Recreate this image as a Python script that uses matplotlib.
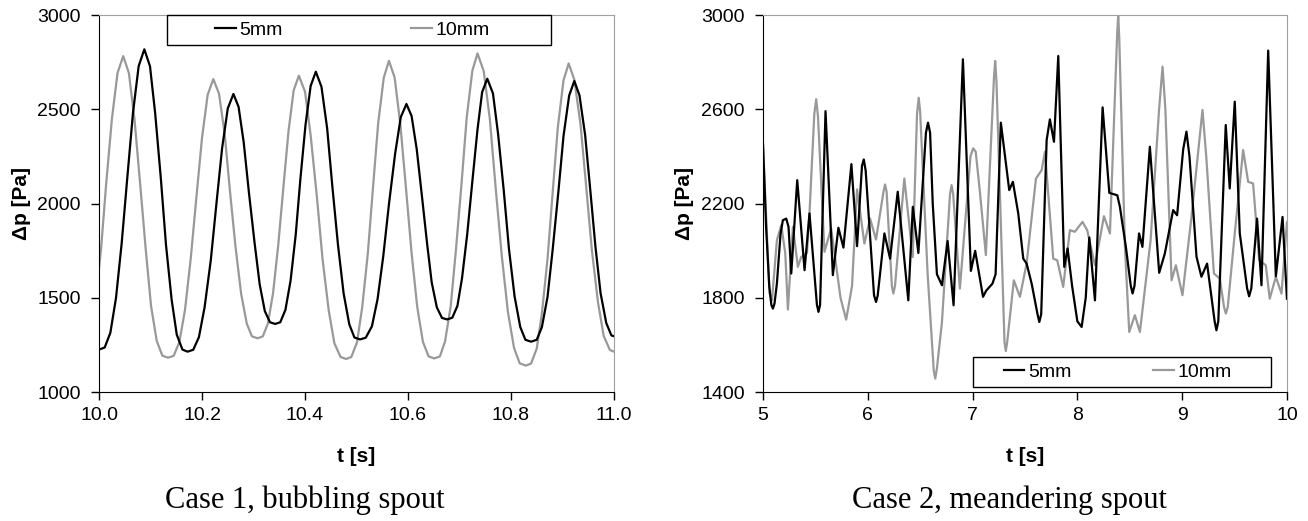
import matplotlib
matplotlib.use("Agg")
import matplotlib.pyplot as plt
from matplotlib.patches import Rectangle

plt.rcParams['font.family'] = ['Liberation Sans', 'DejaVu Sans']

# Case 1 - bubbling spout (t in s, dp in Pa)
t1_5mm = [10.000, 10.011, 10.022, 10.033, 10.044, 10.055, 10.066, 10.077, 10.088,
          10.099, 10.109, 10.120, 10.130, 10.141, 10.151, 10.162, 10.172,
          10.183, 10.194, 10.205, 10.217, 10.228, 10.239, 10.250, 10.261,
          10.271, 10.281, 10.291, 10.302, 10.312, 10.322, 10.332, 10.342,
          10.352, 10.362, 10.372, 10.382, 10.391, 10.401, 10.411, 10.421,
          10.432, 10.443, 10.453, 10.464, 10.475, 10.486, 10.496, 10.507,
          10.518, 10.530, 10.541, 10.552, 10.563, 10.575, 10.586, 10.597,
          10.607, 10.617, 10.627, 10.637, 10.646, 10.656, 10.666, 10.676,
          10.686, 10.696, 10.705, 10.715, 10.725, 10.735, 10.744, 10.754,
          10.765, 10.775, 10.786, 10.796, 10.807, 10.818, 10.828, 10.839,
          10.850, 10.860, 10.871, 10.881, 10.892, 10.902, 10.913, 10.923,
          10.933, 10.944, 10.954, 10.964, 10.974, 10.985, 10.995, 11.000]
p1_5mm = [1225, 1236, 1314, 1499, 1789, 2139, 2482, 2729, 2818,
          2728, 2480, 2135, 1782, 1490, 1304, 1225, 1214,
          1224, 1291, 1449, 1698, 1999, 2293, 2504, 2581,
          2513, 2324, 2061, 1793, 1571, 1429, 1370, 1361,
          1370, 1436, 1591, 1835, 2129, 2417, 2624, 2699,
          2619, 2399, 2094, 1782, 1523, 1359, 1289, 1279,
          1288, 1349, 1494, 1721, 1996, 2264, 2458, 2528,
          2464, 2287, 2041, 1790, 1582, 1449, 1393, 1385,
          1394, 1457, 1605, 1837, 2118, 2393, 2591, 2662,
          2584, 2368, 2068, 1761, 1507, 1345, 1277, 1267,
          1277, 1344, 1505, 1757, 2061, 2358, 2573, 2650,
          2574, 2363, 2071, 1771, 1524, 1366, 1300, 1296]

t1_10mm = [10.000, 10.004, 10.014, 10.025, 10.036, 10.047,
           10.058, 10.069, 10.080, 10.091, 10.101, 10.112, 10.123, 10.134,
           10.145, 10.156, 10.167, 10.178, 10.189, 10.200, 10.211, 10.222,
           10.233, 10.244, 10.254, 10.265, 10.276, 10.287, 10.297, 10.308,
           10.318, 10.328, 10.338, 10.348, 10.358, 10.368, 10.378, 10.388,
           10.400, 10.411, 10.423, 10.434, 10.446, 10.457, 10.469, 10.480,
           10.490, 10.501, 10.511, 10.522, 10.532, 10.542, 10.553, 10.563,
           10.574, 10.585, 10.596, 10.607, 10.618, 10.629, 10.640, 10.651,
           10.662, 10.672, 10.683, 10.693, 10.704, 10.714, 10.725, 10.735,
           10.747, 10.759, 10.770, 10.782, 10.794, 10.806, 10.817, 10.829,
           10.839, 10.850, 10.860, 10.871, 10.881, 10.891, 10.902, 10.912,
           10.923, 10.935, 10.946, 10.957, 10.969, 10.980, 10.992, 11.000]
p1_10mm = [1655, 1760, 2108, 2448, 2693, 2782,
           2692, 2444, 2100, 1748, 1457, 1272, 1193, 1182,
           1192, 1265, 1436, 1705, 2030, 2348, 2577, 2660,
           2583, 2370, 2074, 1772, 1521, 1362, 1295, 1285,
           1295, 1363, 1525, 1778, 2085, 2384, 2600, 2678,
           2594, 2361, 2038, 1707, 1434, 1259, 1186, 1175,
           1186, 1264, 1447, 1735, 2083, 2423, 2668, 2757,
           2669, 2424, 2084, 1737, 1450, 1266, 1189, 1178,
           1189, 1269, 1456, 1751, 2107, 2455, 2705, 2796,
           2703, 2447, 2091, 1726, 1425, 1233, 1152, 1140,
           1151, 1230, 1416, 1707, 2060, 2405, 2653, 2743,
           2657, 2420, 2091, 1754, 1475, 1298, 1223, 1214]

# Case 2 - meandering spout
t2_5mm = [5.000, 5.030, 5.060, 5.080, 5.095, 5.110, 5.133, 5.168, 5.190, 5.222,
          5.244, 5.270, 5.327, 5.397, 5.444, 5.515, 5.530, 5.545, 5.597, 5.667,
          5.720, 5.768, 5.844, 5.898, 5.945, 5.962, 5.980, 6.060, 6.079, 6.095,
          6.159, 6.213, 6.286, 6.387, 6.430, 6.483, 6.555, 6.575, 6.595, 6.620,
          6.660, 6.708, 6.762, 6.819, 6.908, 6.984, 7.025, 7.100, 7.130, 7.190,
          7.220, 7.270, 7.350, 7.385, 7.436, 7.484, 7.516, 7.564, 7.620, 7.637,
          7.655, 7.707, 7.738, 7.777, 7.818, 7.875, 7.907, 7.950, 8.000, 8.041,
          8.080, 8.114, 8.168, 8.241, 8.305, 8.343, 8.381, 8.406, 8.463, 8.510,
          8.527, 8.545, 8.589, 8.621, 8.692, 8.781, 8.835, 8.914, 8.952, 9.010,
          9.041, 9.070, 9.137, 9.184, 9.238, 9.310, 9.327, 9.345, 9.416, 9.454,
          9.502, 9.550, 9.620, 9.639, 9.660, 9.715, 9.757, 9.821, 9.894, 9.958,
          10.000]
p2_5mm = [2455, 2100, 1850, 1770, 1754, 1775, 1860, 2072, 2129, 2136,
          2101, 1903, 2299, 1917, 2158, 1770, 1740, 1770, 2592, 1896,
          2097, 2013, 2367, 2019, 2360, 2387, 2340, 1810, 1782, 1810,
          2073, 1966, 2250, 1789, 2186, 1990, 2500, 2543, 2500, 2200,
          1900, 1853, 2041, 1768, 2812, 1914, 1999, 1804, 1830, 1860,
          1900, 2543, 2257, 2292, 2158, 1966, 1945, 1860, 1730, 1697,
          1730, 2469, 2557, 2462, 2826, 1931, 2009, 1850, 1700, 1676,
          1800, 2056, 1789, 2608, 2245, 2240, 2235, 2186, 2016, 1850,
          1818, 1850, 2073, 2016, 2441, 1906, 1988, 2172, 2150, 2430,
          2505, 2400, 1974, 1889, 1945, 1700, 1662, 1700, 2533, 2264,
          2632, 2073, 1840, 1806, 1840, 2136, 1853, 2849, 1891, 2143,
          1796]

t2_10mm = [5.000, 5.063, 5.086, 5.133, 5.175, 5.213, 5.238, 5.286, 5.333, 5.365,
           5.420, 5.444, 5.490, 5.508, 5.525, 5.587, 5.651, 5.740, 5.794, 5.850,
           5.898, 5.968, 6.022, 6.079, 6.150, 6.165, 6.180, 6.230, 6.244, 6.260,
           6.349, 6.429, 6.470, 6.486, 6.500, 6.571, 6.630, 6.644, 6.660, 6.708,
           6.785, 6.800, 6.815, 6.879, 6.962, 6.980, 7.006, 7.030, 7.070, 7.127,
           7.205, 7.216, 7.228, 7.305, 7.317, 7.330, 7.394, 7.452, 7.516, 7.605,
           7.659, 7.691, 7.770, 7.808, 7.865, 7.929, 7.976, 8.049, 8.094, 8.168,
           8.254, 8.311, 8.380, 8.390, 8.400, 8.454, 8.495, 8.549, 8.597, 8.699,
           8.780, 8.813, 8.840, 8.899, 8.940, 9.003, 9.089, 9.160, 9.194, 9.230,
           9.303, 9.360, 9.400, 9.417, 9.435, 9.502, 9.582, 9.630, 9.677, 9.735,
           9.798, 9.836, 9.894, 9.948, 10.000]
p2_10mm = [2452, 1818, 1789, 2044, 2108, 1988, 1750, 2101, 1931, 1973,
           1990, 2158, 2580, 2643, 2570, 1995, 2094, 1800, 1707, 1850,
           2260, 2030, 2136, 2047, 2250, 2281, 2250, 1850, 1818, 1850,
           2306, 1973, 2580, 2649, 2590, 1903, 1490, 1457, 1500, 1697,
           2240, 2278, 2240, 1839, 2299, 2400, 2434, 2420, 2250, 1981,
           2740, 2805, 2720, 1610, 1574, 1610, 1874, 1804, 1945, 2306,
           2341, 2420, 1966, 1959, 1846, 2087, 2080, 2122, 2087, 1938,
           2146, 2073, 2920, 3000, 2900, 2016, 1655, 1726, 1655, 2044,
           2600, 2781, 2600, 1874, 1938, 1811, 2143, 2450, 2597, 2400,
           1903, 1881, 1760, 1733, 1760, 2073, 2427, 2292, 2285, 1959,
           1938, 1796, 1889, 1818, 2120]

labels = ["5mm", "10mm"]
colors = ["black", "#999999"]

fig = plt.figure(figsize=(13.08, 5.21), dpi=100)
ax1 = fig.add_axes([0.0757, 0.2476, 0.3937, 0.7236])
ax2 = fig.add_axes([0.5833, 0.2476, 0.4006, 0.7236])


def style_axes(ax, xlim, ylim, xticks, yticks, xfmt):
    ax.set_xlim(*xlim)
    ax.set_ylim(*ylim)
    ax.set_xticks(xticks)
    ax.set_xticklabels([xfmt.format(x) for x in xticks])
    ax.set_yticks(yticks)
    for s in ['top', 'right']:
        ax.spines[s].set_color('#a0a0a0')
    for s in ['left', 'bottom']:
        ax.spines[s].set_color('black')
    ax.tick_params(direction='out', length=6, width=1, labelsize=14,
                   top=False, right=False)
    ax.tick_params(axis='x', pad=5)
    ax.tick_params(axis='y', pad=7)
    ax.set_xlabel("t [s]", fontsize=15, fontweight='bold', labelpad=16)
    ax.set_ylabel("Δp [Pa]", fontsize=15, fontweight='bold', labelpad=5)


def add_legend(ax, box, center, spacing):
    ax.add_patch(Rectangle((box[0], box[1]), box[2], box[3], transform=ax.transAxes,
                           facecolor='white', edgecolor='black', lw=1, zorder=4,
                           clip_on=False))
    leg = ax.legend(loc='center', bbox_to_anchor=center, ncol=2, frameon=False,
                    fontsize=14, handlelength=1.05, handletextpad=0.2,
                    columnspacing=spacing)
    leg.set_zorder(5)


# left panel
ax1.plot(t1_10mm, p1_10mm, color=colors[1], lw=1.6, zorder=2)
ax1.plot(t1_5mm, p1_5mm, color=colors[0], lw=1.6, zorder=3)
ax1.plot([], [], color=colors[0], lw=1.6, label=labels[0])
ax1.plot([], [], color=colors[1], lw=1.6, label=labels[1])
style_axes(ax1, (10, 11), (1000, 3000), [10.0, 10.2, 10.4, 10.6, 10.8, 11.0],
           [1000, 1500, 2000, 2500, 3000], "{:.1f}")
add_legend(ax1, (0.132, 0.920, 0.746, 0.080), (0.492, 0.960), 6.6)

# right panel
ax2.plot(t2_10mm, p2_10mm, color=colors[1], lw=1.6, zorder=2)
ax2.plot(t2_5mm, p2_5mm, color=colors[0], lw=1.6, zorder=3)
ax2.plot([], [], color=colors[0], lw=1.6, label=labels[0])
ax2.plot([], [], color=colors[1], lw=1.6, label=labels[1])
style_axes(ax2, (5, 10), (1400, 3000), [5, 6, 7, 8, 9, 10],
           [1400, 1800, 2200, 2600, 3000], "{:.0f}")
add_legend(ax2, (0.401, 0.013, 0.568, 0.080), (0.677, 0.053), 4.2)

fig.text(305 / 1308, 1 - 500 / 521, "Case 1, bubbling spout", ha='center', va='center',
         fontsize=22, family='Liberation Serif')
fig.text(1009 / 1308, 1 - 500 / 521, "Case 2, meandering spout", ha='center', va='center',
         fontsize=22, family='Liberation Serif')

fig.savefig("out.png", dpi=100)
